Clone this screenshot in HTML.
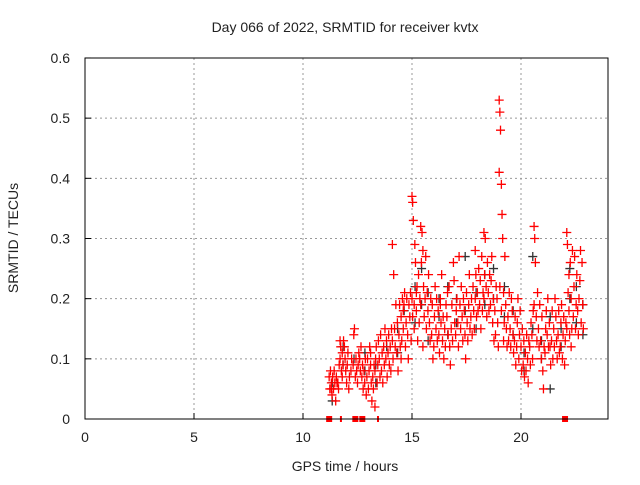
<!DOCTYPE html>
<html><head><meta charset="utf-8"><style>
body{margin:0;background:#fff;}
svg text{font-family:"Liberation Sans",sans-serif;font-size:14px;fill:#222;}
</style></head><body>
<svg id="chart" width="640" height="480" viewBox="0 0 640 480" xmlns="http://www.w3.org/2000/svg">
<rect width="640" height="480" fill="#fff"/>
<text x="345" y="32" text-anchor="middle">Day 066 of 2022, SRMTID for receiver kvtx</text>
<text x="345" y="471" text-anchor="middle">GPS time / hours</text>
<text transform="translate(18,238) rotate(-90)" text-anchor="middle">SRMTID / TECUs</text>
<g id="grid"></g><g id="ticks"></g><g id="marks"></g>
<rect x="85" y="58" width="523" height="361" fill="none" stroke="#000" stroke-width="1"/>
</svg>
<script>
const xTicks=[0,5,10,15,20];
const yTicks=[0,0.1,0.2,0.3,0.4,0.5,0.6];
const yTickLabels=["0","0.1","0.2","0.3","0.4","0.5","0.6"];
const redT=[11.2,11.3,11.4,11.5,11.6,11.7,11.8,11.9,12.0,12.1,12.2,12.3,12.4,12.5,12.6,12.7,12.8,12.9,13.0,13.1,13.2,13.3,13.4,13.5,13.6,13.7,13.8,13.9,14.0,14.1,14.2,14.3,14.4,14.5,14.6,14.7,14.8,14.9,15.0,15.1,15.2,15.3,15.4,15.5,15.6,15.7,15.8,15.9,16.0,16.1,16.2,16.3,16.4,16.5,16.6,16.7,16.8,16.9,17.0,17.1,17.2,17.3,17.4,17.5,17.6,17.7,17.8,17.9,18.0,18.1,18.2,18.3,18.4,18.5,18.6,18.7,18.8,18.9,19.0,19.1,19.2,19.3,19.4,19.5,19.6,19.7,19.8,19.9,20.0,20.1,20.2,20.3,20.4,20.5,20.6,20.7,20.8,20.9,21.0,21.1,21.2,21.3,21.4,21.5,21.6,21.7,21.8,21.9,22.0,22.1,22.2,22.3,22.4,22.5,22.6,22.7,22.8];
const redV=[[0.07,0.05,0.08],[0.06,0.04,0.07,0.05],[0.05,0.08,0.06],[0.03,0.07,0.06],[0.06,0.05,0.09],[0.1,0.12,0.08,0.13],[0.11,0.09,0.13,0.07],[0.12,0.1,0.08],[0.06,0.09,0.11],[0.05,0.07],[0.08,0.1],[0.09,0.14,0.15],[0.07,0.1,0.08],[0.06,0.09,0.11],[0.1,0.08,0.12],[0.07,0.09,0.05],[0.08,0.06,0.1],[0.04,0.07,0.1],[0.05,0.08,0.12],[0.09,0.06,0.03,0.11],[0.07,0.05,0.09],[0.08,0.1,0.12,0.02],[0.06,0.09,0.13],[0.1,0.07,0.14],[0.08,0.11,0.06],[0.12,0.09,0.15],[0.1,0.13,0.07],[0.11,0.14,0.09],[0.12,0.08,0.15],[0.13,0.1,0.24,0.29],[0.15,0.12,0.19],[0.11,0.16,0.08],[0.14,0.19,0.12],[0.17,0.13,0.2,0.1],[0.15,0.19,0.21,0.18],[0.12,0.16,0.2],[0.14,0.1,0.19],[0.17,0.21,0.13],[0.37,0.36,0.33,0.2,0.17],[0.15,0.29,0.26,0.19],[0.18,0.22,0.13,0.21],[0.24,0.16,0.2],[0.19,0.26,0.31,0.32],[0.28,0.22,0.17,0.12],[0.2,0.27,0.15],[0.21,0.18,0.24],[0.16,0.13,0.2],[0.14,0.19,0.1],[0.12,0.17,0.22],[0.15,0.2,0.13],[0.18,0.14,0.11],[0.2,0.16,0.24,0.19],[0.13,0.17,0.1],[0.15,0.12,0.19],[0.17,0.21,0.14],[0.22,0.12,0.09],[0.15,0.19,0.13],[0.26,0.23,0.16],[0.14,0.18,0.2],[0.16,0.12,0.27],[0.19,0.15,0.22],[0.17,0.13,0.2],[0.18,0.14,0.1],[0.21,0.16,0.13],[0.19,0.24,0.15],[0.17,0.2,0.14],[0.22,0.18,0.15],[0.2,0.24,0.17,0.28],[0.21,0.18,0.25],[0.19,0.23,0.15],[0.27,0.18,0.21],[0.2,0.24,0.3,0.31],[0.22,0.17,0.26],[0.21,0.18,0.24],[0.19,0.23,0.27],[0.16,0.2,0.13],[0.18,0.14,0.22],[0.2,0.16,0.12],[0.53,0.51,0.48,0.41,0.22],[0.39,0.34,0.3,0.18],[0.21,0.16,0.27,0.13],[0.19,0.15,0.12],[0.17,0.13,0.21],[0.15,0.12,0.2],[0.18,0.14,0.11],[0.13,0.17,0.09],[0.12,0.16,0.2],[0.1,0.14,0.18],[0.12,0.08,0.15],[0.09,0.13,0.07],[0.11,0.08,0.14],[0.1,0.06,0.13],[0.12,0.09,0.16],[0.14,0.1,0.18],[0.32,0.3,0.26,0.19],[0.17,0.13,0.21],[0.15,0.12,0.19],[0.13,0.1,0.17],[0.08,0.05,0.12],[0.11,0.15,0.18],[0.14,0.2,0.12],[0.16,0.12,0.09],[0.13,0.18,0.1],[0.15,0.12,0.2],[0.17,0.13,0.1],[0.14,0.18,0.11],[0.12,0.16,0.19],[0.1,0.14,0.17],[0.09,0.13,0.16],[0.31,0.29,0.21,0.15],[0.18,0.14,0.26,0.24],[0.2,0.15,0.28,0.12],[0.17,0.22,0.27],[0.15,0.19,0.24],[0.18,0.14,0.2],[0.23,0.28,0.16],[0.26,0.19,0.15],[0.2,0.17,0.23],[0.22,0.16,0.18]];
const blkT=[11.3,11.8,12.3,12.8,13.3,13.8,14.3,14.6,15.1,15.4,15.7,16.2,16.6,17.0,17.4,17.9,18.3,18.7,19.2,19.6,20.1,20.5,20.9,21.3,21.8,22.2,22.5,22.8];
const blkV=[[0.06,0.03],[0.12,0.09],[0.1],[0.11,0.08],[0.06,0.09],[0.12],[0.15,0.11],[0.18],[0.22,0.16],[0.25,0.19],[0.21,0.13],[0.17,0.2],[0.14,0.22],[0.2,0.16],[0.18,0.27],[0.21,0.15],[0.24,0.19],[0.2,0.25],[0.17,0.22],[0.14,0.18],[0.11,0.08],[0.15,0.27],[0.13,0.1],[0.17,0.05],[0.15,0.12],[0.2,0.25],[0.22,0.16],[0.19,0.14]];
const zeroT=[11.2,11.74,12.4,12.72,13.44,22.02];
const zeroW=[6,2,6,6,2,6];
const NS='http://www.w3.org/2000/svg';
const X=t=>85+t*21.8, Y=v=>419-v*601.7;
function mk(tag,attrs,parent){const e=document.createElementNS(NS,tag);for(const k in attrs)e.setAttribute(k,attrs[k]);parent.appendChild(e);return e;}
const grid=document.getElementById('grid'),ticks=document.getElementById('ticks'),marks=document.getElementById('marks');
xTicks.forEach(t=>{
  if(t>0){const g=mk('line',{x1:X(t),x2:X(t),y1:58,y2:419,stroke:'#999','stroke-dasharray':'2,3'},grid);
  
  }
  const tk=mk('line',{x1:X(t),x2:X(t),y1:419,y2:413,stroke:'#000'},ticks);
  
  
  const lb=mk('text',{x:X(t),y:442,'text-anchor':'middle'},ticks);lb.textContent=t;
  
  
});
yTicks.forEach((v,i)=>{
  if(v>0&&v<0.6){const g=mk('line',{x1:85,x2:608,y1:Y(v),y2:Y(v),stroke:'#999','stroke-dasharray':'2,3'},grid);
  
  }
  const tk=mk('line',{x1:85,x2:91,y1:Y(v),y2:Y(v),stroke:'#000'},ticks);
  
  
  const lb=mk('text',{x:70,y:Y(v)+5,'text-anchor':'end'},ticks);lb.textContent=yTickLabels[i];
  
  
});
function plus(t,v,col,name){const x=X(t),y=Y(v);
  const p=mk('path',{d:`M${x-4.5} ${y}H${x+4.5}M${x} ${y-4.5}V${y+4.5}`,stroke:col,'stroke-width':1.3,fill:'none'},marks);
  
  }
blkT.forEach((t,i)=>(blkV[i]||[]).forEach(v=>plus(t+0.04,v,'#333','black-point')));
redT.forEach((t,i)=>(redV[i]||[]).forEach((v,j)=>plus(t+(j%3)*0.03,v,'#f00','red-point')));
zeroT.forEach((t,i)=>{const r=mk('rect',{x:X(t)-zeroW[i]/2,y:416,width:zeroW[i],height:6,fill:'#f00'},marks);
  
  });
</script>
</body></html>
